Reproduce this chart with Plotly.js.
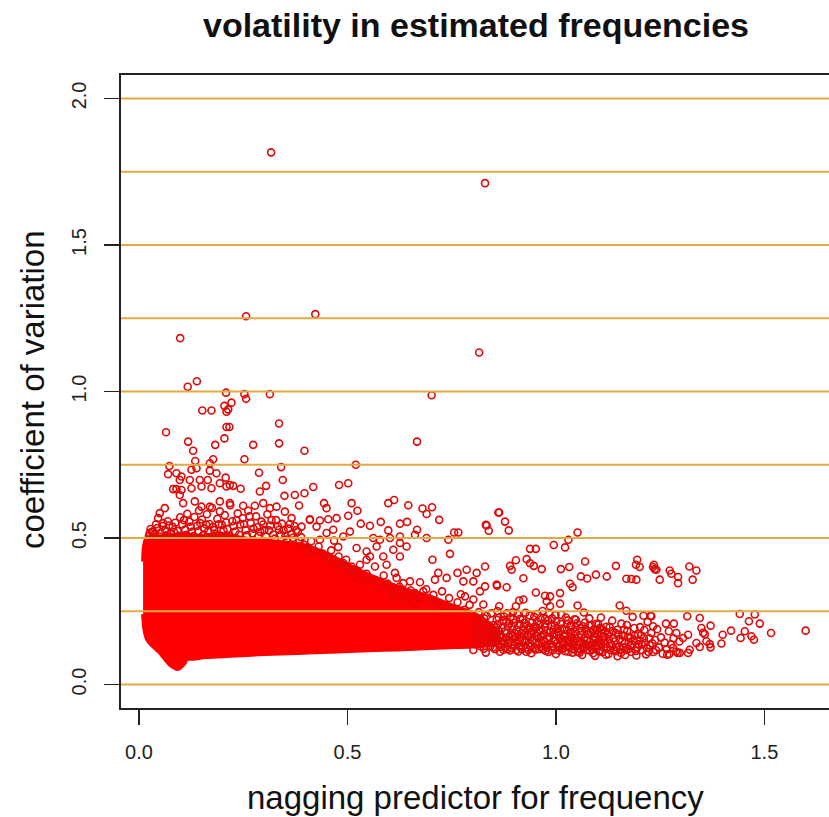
<!DOCTYPE html>
<html>
<head>
<meta charset="utf-8">
<script src="https://cdn.plot.ly/plotly-3.0.1.min.js"></script>
<style>html,body{margin:0;padding:0;background:#fff;}#chart{width:829px;height:817px;}</style>
</head>
<body>
<div id="chart"></div>
<script>
// ---------------- data ----------------
var chartTitle = 'volatility in estimated frequencies';
var xTitle = 'nagging predictor for frequency';
var yTitle = 'coefficient of variation';
var xTickVals = [0, 0.5, 1.0, 1.5];
var xTickText = ['0.0', '0.5', '1.0', '1.5'];
var yTickVals = [0, 0.5, 1.0, 1.5, 2.0];
var yTickText = ['0.0', '0.5', '1.0', '1.5', '2.0'];
var refLevels = [0, 0.25, 0.5, 0.75, 1.0, 1.25, 1.5, 1.75, 2.0];

// outline of the saturated (overplotted) core of the cloud
var coreX = [0.010,0.012,0.018,0.050,0.100,0.150,0.200,0.230,0.270,0.310,0.350,0.390,0.420,0.460,0.500,0.550,0.600,0.650,0.700,0.750,0.800,0.835,0.860,
             0.860,0.800,0.760,0.700,0.620,0.550,0.460,0.380,0.300,0.220,0.162,0.130,0.114,0.110,0.094,0.074,0.050,0.030,0.020,0.013,0.010];
var coreY = [0.420,0.470,0.500,0.505,0.512,0.508,0.515,0.505,0.495,0.490,0.485,0.478,0.465,0.440,0.410,0.375,0.345,0.320,0.300,0.270,0.245,0.215,0.180,
             0.140,0.130,0.128,0.125,0.120,0.117,0.112,0.108,0.104,0.098,0.094,0.088,0.087,0.074,0.053,0.068,0.109,0.135,0.153,0.190,0.240];

var outliers = [[0.317,1.816],[0.830,1.711],[0.257,1.257],[0.423,1.264],[0.099,1.182],[0.816,1.133],[0.117,1.016],[0.139,1.035],[0.209,0.996],[0.253,0.991],[0.314,0.991],[0.702,0.987],[0.257,0.975]];

var upperScatter = [[0.152,0.935],[0.174,0.935],[0.205,0.951],[0.222,0.962],[0.210,0.931],[0.214,0.939],[0.336,0.891],[0.065,0.861],[0.210,0.879],[0.217,0.879],[0.205,0.840],[0.118,0.829],[0.183,0.818],[0.274,0.818],[0.336,0.823],[0.397,0.798],[0.130,0.798],[0.135,0.763],[0.178,0.769],[0.170,0.755],[0.253,0.769],[0.073,0.746],[0.070,0.718],[0.126,0.733],[0.138,0.738],[0.170,0.730],[0.288,0.723],[0.341,0.742],[0.345,0.698],[0.090,0.721],[0.102,0.710],[0.098,0.698],[0.122,0.698],[0.146,0.698],[0.126,0.670],[0.150,0.676],[0.165,0.698],[0.186,0.721],[0.208,0.706],[0.210,0.676],[0.218,0.681],[0.226,0.678],[0.244,0.668],[0.082,0.667],[0.090,0.667],[0.102,0.664],[0.098,0.647],[0.174,0.670],[0.194,0.687],[0.290,0.659],[0.305,0.678],[0.349,0.644],[0.374,0.647],[0.397,0.653],[0.418,0.674],[0.384,0.611],[0.062,0.602],[0.050,0.585],[0.046,0.568],[0.058,0.551],[0.034,0.522],[0.026,0.517],[0.106,0.619],[0.134,0.625],[0.150,0.607],[0.170,0.607],[0.194,0.625],[0.218,0.619],[0.250,0.610],[0.278,0.610],[0.298,0.619],[0.314,0.602],[0.330,0.607],[0.350,0.590],[0.366,0.568],[0.390,0.539],[0.410,0.562],[0.426,0.539]];

var midScatter = [[0.667,0.829],[0.520,0.750],[0.480,0.681],[0.502,0.687],[0.444,0.619],[0.450,0.602],[0.510,0.619],[0.524,0.593],[0.598,0.619],[0.612,0.630],[0.646,0.612],[0.680,0.601],[0.690,0.582],[0.703,0.605],[0.720,0.562],[0.834,0.543],[0.839,0.525],[0.862,0.587],[0.410,0.564],[0.434,0.560],[0.454,0.564],[0.474,0.568],[0.502,0.576],[0.532,0.549],[0.554,0.542],[0.580,0.555],[0.598,0.526],[0.626,0.549],[0.643,0.555],[0.667,0.528],[0.690,0.500],[0.742,0.494],[0.756,0.519],[0.766,0.519],[0.746,0.446],[0.704,0.426],[0.830,0.403],[0.810,0.381],[0.786,0.392],[0.778,0.352],[0.802,0.352],[0.858,0.341],[0.764,0.381],[0.738,0.364],[0.718,0.381],[0.710,0.358],[0.650,0.352],[0.674,0.349],[0.682,0.318],[0.662,0.312],[0.634,0.346],[0.614,0.381],[0.618,0.364],[0.830,0.335],[0.818,0.318],[0.802,0.290],[0.782,0.301],[0.546,0.454],[0.570,0.471],[0.586,0.437],[0.610,0.460],[0.626,0.483],[0.642,0.471],[0.546,0.426],[0.566,0.403],[0.594,0.409],[0.626,0.437],[0.490,0.415],[0.510,0.403],[0.530,0.409],[0.554,0.437],[0.522,0.466],[0.466,0.528],[0.490,0.505],[0.506,0.522],[0.450,0.517],[0.434,0.494],[0.562,0.500],[0.578,0.494],[0.602,0.500],[0.626,0.505],[0.662,0.511]];

var rightScatter = [[0.864,0.587],[0.878,0.556],[0.887,0.526],[0.832,0.545],[1.052,0.519],[1.030,0.494],[1.022,0.468],[0.995,0.476],[0.938,0.463],[0.952,0.463],[0.930,0.428],[0.938,0.414],[0.947,0.405],[0.966,0.394],[0.904,0.424],[0.890,0.405],[0.894,0.392],[0.922,0.363],[1.012,0.394],[1.032,0.401],[1.070,0.420],[1.060,0.369],[1.075,0.362],[1.096,0.375],[1.122,0.369],[1.144,0.405],[1.195,0.426],[1.201,0.401],[1.192,0.409],[1.233,0.401],[1.241,0.392],[1.169,0.361],[1.181,0.360],[1.193,0.358],[0.859,0.337],[0.882,0.332],[0.952,0.314],[0.974,0.303],[0.986,0.301],[1.010,0.312],[1.034,0.344],[1.040,0.332],[0.978,0.284],[0.986,0.267],[1.010,0.276],[1.052,0.270],[0.922,0.290],[0.912,0.287],[0.904,0.267],[0.864,0.267],[0.826,0.273],[1.153,0.270],[1.169,0.252],[1.210,0.235],[1.227,0.235]];

var tailScatter = [[1.235,0.409],[1.237,0.394],[1.273,0.389],[1.277,0.378],[1.293,0.367],[1.293,0.346],[1.249,0.358],[1.320,0.403],[1.337,0.389],[1.328,0.358],[1.264,0.208],[1.283,0.208],[1.315,0.233],[1.229,0.233],[1.233,0.199],[1.289,0.176],[1.317,0.170],[1.305,0.159],[1.281,0.125],[1.272,0.104],[1.297,0.108],[1.317,0.108],[1.345,0.128],[1.371,0.127],[1.361,0.148],[1.349,0.193],[1.345,0.227],[1.371,0.201],[1.353,0.177],[1.357,0.172],[1.441,0.241],[1.477,0.239],[1.463,0.216],[1.489,0.208],[1.516,0.176],[1.599,0.184],[1.420,0.184],[1.400,0.170],[1.397,0.140],[1.443,0.159],[1.453,0.182],[1.469,0.165],[1.475,0.153],[1.369,0.138],[1.337,0.142],[1.321,0.119],[1.267,0.102],[1.292,0.108]];

var bandScatter = [[0.802,0.118],[0.806,0.214],[0.811,0.162],[0.815,0.247],[0.819,0.131],[0.823,0.188],[0.828,0.226],[0.832,0.109],[0.836,0.152],[0.840,0.201],[0.845,0.243],[0.849,0.127],[0.853,0.176],[0.858,0.221],[0.862,0.139],[0.866,0.112],[0.871,0.193],[0.875,0.232],[0.879,0.158],[0.884,0.121],[0.888,0.208],[0.892,0.171],[0.897,0.247],[0.901,0.134],[0.906,0.187],[0.910,0.113],[0.914,0.224],[0.919,0.149],[0.923,0.198],[0.928,0.126],[0.932,0.169],[0.937,0.236],[0.941,0.107],[0.946,0.184],[0.950,0.142],[0.955,0.214],[0.959,0.121],[0.964,0.163],[0.968,0.251],[0.973,0.196],[0.977,0.133],[0.982,0.111],[0.986,0.178],[0.991,0.226],[0.995,0.148],[1.000,0.104],[1.004,0.191],[1.009,0.129],[1.013,0.238],[1.018,0.166],[1.022,0.114],[1.027,0.207],[1.031,0.143],[1.036,0.178],[1.040,0.109],[1.045,0.223],[1.049,0.157],[1.054,0.124],[1.058,0.192],[1.063,0.101],[1.067,0.246],[1.072,0.138],[1.076,0.172],[1.081,0.116],[1.085,0.203],[1.090,0.152],[1.094,0.098],[1.099,0.186],[1.103,0.131],[1.108,0.229],[1.112,0.111],[1.117,0.164],[1.121,0.197],[1.126,0.104],[1.130,0.141],[1.135,0.218],[1.139,0.119],[1.144,0.176],[1.148,0.097],[1.153,0.155],[1.157,0.208],[1.162,0.126],[1.166,0.101],[1.171,0.183],[1.175,0.145],[1.180,0.112],[1.184,0.231],[1.189,0.167],[1.193,0.099],[1.198,0.138],[1.202,0.196],[1.207,0.117],[1.211,0.158],[1.216,0.103],[1.220,0.214],[1.225,0.134],[1.229,0.176],[1.234,0.111],[1.238,0.152],[1.243,0.189],[1.247,0.127],[1.252,0.161],[1.256,0.105],[1.261,0.143],[1.266,0.121],[1.271,0.182],[1.276,0.137],[1.282,0.158],[1.288,0.113],[1.296,0.147],
  [0.803,0.172],[0.809,0.137],[0.814,0.195],[0.821,0.155],[0.827,0.122],[0.834,0.234],[0.838,0.178],[0.843,0.131],[0.851,0.203],[0.855,0.148],[0.860,0.251],[0.864,0.183],[0.869,0.128],[0.873,0.162],[0.881,0.215],[0.886,0.142],[0.890,0.116],[0.895,0.198],[0.903,0.161],[0.908,0.239],[0.912,0.132],[0.917,0.176],[0.925,0.211],[0.930,0.152],[0.934,0.118],[0.939,0.193],[0.948,0.231],[0.952,0.167],[0.957,0.137],[0.962,0.185],[0.970,0.121],[0.975,0.208],[0.979,0.156],[0.984,0.241],[0.993,0.131],[0.997,0.201],[1.002,0.168],[1.007,0.116],[1.016,0.145],[1.020,0.188],[1.025,0.128],[1.029,0.219],[1.038,0.157],[1.043,0.135],[1.047,0.196],[1.052,0.112],[1.061,0.169],[1.065,0.141],[1.070,0.212],[1.074,0.118],[1.083,0.179],[1.088,0.133],[1.092,0.161],[1.097,0.207],[1.106,0.148],[1.110,0.176],[1.115,0.125],[1.119,0.139]];

var bandScatter2 = [[0.852,0.165],[0.857,0.195],[0.863,0.228],[0.868,0.148],[0.874,0.119],[0.877,0.181],[0.883,0.243],[0.887,0.163],[0.893,0.135],[0.898,0.224],[0.902,0.175],[0.909,0.148],[0.913,0.207],[0.918,0.121],[0.924,0.168],[0.927,0.245],[0.933,0.187],[0.938,0.141],[0.943,0.212],[0.947,0.124],[0.953,0.195],[0.958,0.158],[0.963,0.227],[0.967,0.142],[0.972,0.173],[0.976,0.115],[0.981,0.219],[0.985,0.161],[0.989,0.128],[0.994,0.188],[0.999,0.237],[1.003,0.142],[1.008,0.171],[1.012,0.207],[1.017,0.123],[1.021,0.153],[1.026,0.186],[1.030,0.112],[1.035,0.201],[1.039,0.139],[1.044,0.168],[1.048,0.221],[1.053,0.147],[1.057,0.109],[1.062,0.183],[1.066,0.126],[1.071,0.191],[1.075,0.151],[1.080,0.226],[1.084,0.134],[1.089,0.107],[1.093,0.174],[1.098,0.143],[1.102,0.205],[1.107,0.118],[1.111,0.189],[1.116,0.148],[1.120,0.102],[1.125,0.171],[1.129,0.196],[1.134,0.133],[1.138,0.158],[1.143,0.114],[1.147,0.187],[1.152,0.131],[1.156,0.108],[1.161,0.167],[1.165,0.141],[1.170,0.203],[1.174,0.121],[1.179,0.159],[1.183,0.137],[1.188,0.193],[1.192,0.115],[1.197,0.172],[1.201,0.152],[1.206,0.137],[1.212,0.186],[1.218,0.125],[1.224,0.158],[1.231,0.141],[1.240,0.118]];

var bandScatter3 = [[0.842,0.141],[0.846,0.186],[0.850,0.158],[0.854,0.121],[0.859,0.172],[0.861,0.206],[0.867,0.161],[0.870,0.139],[0.872,0.219],[0.876,0.149],[0.880,0.128],[0.882,0.176],[0.885,0.199],[0.889,0.152],[0.891,0.229],[0.894,0.124],[0.896,0.166],[0.900,0.211],[0.904,0.143],[0.905,0.118],[0.911,0.181],[0.915,0.161],[0.916,0.131],[0.920,0.222],[0.922,0.184],[0.926,0.145],[0.929,0.112],[0.931,0.201],[0.935,0.163],[0.940,0.129],[0.942,0.176],[0.945,0.151],[0.949,0.198],[0.951,0.119],[0.954,0.177],[0.956,0.241],[0.960,0.144],[0.961,0.204],[0.965,0.128],[0.969,0.169],[0.971,0.152],[0.974,0.225],[0.978,0.183],[0.980,0.125],[0.983,0.162],[0.987,0.139],[0.990,0.201],[0.992,0.117],[0.996,0.172],[0.998,0.152],[1.001,0.215],[1.005,0.131],[1.006,0.179],[1.010,0.157],[1.014,0.122],[1.015,0.191],[1.019,0.137],[1.023,0.172],[1.024,0.229],[1.028,0.151],[1.032,0.127],[1.034,0.164],[1.037,0.198],[1.041,0.121],[1.042,0.149],[1.046,0.181],[1.050,0.134],[1.051,0.209],[1.055,0.163],[1.059,0.142],[1.060,0.118],[1.064,0.199],[1.068,0.158],[1.069,0.127],[1.073,0.184],[1.077,0.133],[1.079,0.202],[1.082,0.147],[1.087,0.121],[1.091,0.188],[1.095,0.159],[1.096,0.128],[1.100,0.171],[1.104,0.113],[1.105,0.193],[1.109,0.138],[1.113,0.162],[1.118,0.181],[1.123,0.128],[1.127,0.155],[1.131,0.117],[1.136,0.183],[1.141,0.147],[1.145,0.128],[1.150,0.171],[1.155,0.121],[1.159,0.148],[1.164,0.188],[1.168,0.118],[1.173,0.163],[1.178,0.132],[1.186,0.151],[1.195,0.127],[1.204,0.168],[1.214,0.142],[1.222,0.111]];

var shoulderScatter = [[0.605,0.318],[0.612,0.296],[0.625,0.334],[0.633,0.305],[0.641,0.288],[0.652,0.321],[0.661,0.279],[0.673,0.297],[0.689,0.325],[0.698,0.284],[0.706,0.306],[0.715,0.276],[0.727,0.318],[0.735,0.268],[0.744,0.295],[0.752,0.262],[0.764,0.281],[0.772,0.308],[0.781,0.255],[0.793,0.272],[0.568,0.357],[0.579,0.331],[0.587,0.372],[0.596,0.345],[0.546,0.378],[0.536,0.353],[0.524,0.389],[0.515,0.371],
  [0.395,0.478],[0.404,0.462],[0.413,0.489],[0.422,0.455],[0.431,0.471],[0.441,0.447],[0.452,0.429],[0.461,0.458],[0.470,0.412],[0.479,0.437],[0.488,0.401],[0.497,0.426],[0.506,0.389],[0.478,0.469],[0.468,0.491]];

var topFringe = [[0.024,0.508],[0.031,0.521],[0.038,0.512],[0.044,0.534],[0.052,0.518],[0.057,0.541],[0.063,0.526],[0.069,0.557],[0.075,0.515],[0.081,0.538],[0.087,0.552],[0.093,0.524],[0.099,0.571],[0.104,0.546],[0.111,0.529],[0.116,0.583],[0.121,0.556],[0.127,0.521],[0.133,0.572],[0.139,0.541],[0.144,0.594],[0.151,0.563],[0.157,0.532],[0.163,0.581],[0.169,0.548],[0.175,0.603],[0.181,0.527],[0.188,0.566],[0.194,0.591],[0.199,0.545],[0.206,0.578],[0.212,0.531],[0.219,0.612],[0.224,0.557],[0.231,0.522],[0.237,0.584],[0.243,0.546],[0.249,0.568],[0.256,0.527],[0.262,0.593],[0.268,0.551],[0.275,0.532],[0.281,0.574],[0.287,0.508],[0.294,0.556],[0.301,0.527],[0.308,0.581],[0.315,0.543],[0.322,0.512],[0.329,0.561],[0.336,0.528],[0.343,0.549],[0.351,0.507],[0.358,0.532],[0.366,0.514],[0.373,0.541],[0.381,0.521],[0.389,0.503],
  [0.028,0.531],[0.041,0.547],[0.048,0.505],[0.066,0.509],[0.072,0.543],[0.084,0.521],[0.096,0.508],[0.108,0.561],[0.114,0.511],[0.124,0.539],[0.131,0.507],[0.142,0.523],[0.147,0.551],[0.155,0.512],[0.161,0.546],[0.166,0.522],[0.178,0.538],[0.185,0.513],[0.191,0.547],[0.203,0.526],[0.209,0.553],[0.216,0.507],[0.227,0.541],[0.234,0.561],[0.240,0.511],[0.252,0.548],[0.259,0.509],[0.265,0.574],[0.272,0.516],[0.284,0.537],[0.291,0.521],[0.298,0.546],[0.305,0.505],[0.312,0.526],[0.318,0.561],[0.326,0.498],[0.333,0.541],[0.340,0.512],[0.347,0.527],[0.355,0.495],[0.362,0.548],[0.369,0.501],[0.377,0.527],[0.385,0.489]];

// ---------------- build ----------------
var allPts = [].concat(outliers, upperScatter, midScatter, rightScatter, tailScatter, bandScatter, bandScatter2, bandScatter3, shoulderScatter, topFringe);
var ptX = allPts.map(function (p) { return p[0]; });
var ptY = allPts.map(function (p) { return p[1]; });

var FONT = 'Liberation Sans, Arial, Helvetica, sans-serif';
var RED = '#FF0000';
var RING = '#E00808';

var traces = [
  { type: 'scatter', mode: 'lines', x: coreX, y: coreY, fill: 'toself', fillcolor: RED,
    line: { color: RED, width: 4, shape: 'spline', smoothing: 0.6 }, hoverinfo: 'skip', showlegend: false },
  { type: 'scatter', mode: 'markers', x: ptX, y: ptY, showlegend: false,
    marker: { symbol: 'circle-open', size: 7, color: RING, line: { width: 1.6, color: RING } } }
];

var shapes = refLevels.map(function (v) {
  return { type: 'line', xref: 'paper', x0: 0, x1: 1, yref: 'y', y0: v, y1: v, layer: 'above',
           line: { color: '#E2AA40', width: 2 } };
});

var layout = {
  width: 829, height: 817,
  paper_bgcolor: '#ffffff', plot_bgcolor: '#ffffff',
  margin: { l: 121, r: 0, t: 75, b: 109, pad: 0 },
  showlegend: false,
  font: { family: FONT, color: '#111' },
  title: { text: chartTitle, font: { family: FONT, size: 34, weight: 700, color: '#111' },
           xref: 'container', x: 476 / 829, xanchor: 'center',
           yref: 'container', y: 1 - 25 / 817, yanchor: 'middle' },
  xaxis: { range: [-0.043, 1.655], tickmode: 'array', tickvals: xTickVals, ticktext: xTickText,
           ticks: 'outside', ticklen: 15, tickwidth: 1.5, tickcolor: '#222', ticklabelstandoff: 10,
           tickfont: { family: FONT, size: 20, color: '#222' },
           showline: true, mirror: true, linecolor: '#222', linewidth: 2,
           showgrid: false, zeroline: false, fixedrange: true },
  yaxis: { range: [-0.08, 2.08], tickmode: 'array', tickvals: yTickVals, ticktext: yTickText,
           tickangle: -90, ticks: 'outside', ticklen: 15, tickwidth: 1.5, tickcolor: '#222', ticklabelstandoff: 10,
           tickfont: { family: FONT, size: 20, color: '#222' },
           showline: true, mirror: false, linecolor: '#222', linewidth: 2,
           showgrid: false, zeroline: false, fixedrange: true },
  shapes: shapes,
  annotations: [
    { text: xTitle, xref: 'paper', yref: 'paper', x: 0.5, y: (708 - 797) / 633,
      xanchor: 'center', yanchor: 'middle', showarrow: false,
      font: { family: FONT, size: 33, color: '#111' } },
    { text: yTitle, xref: 'paper', yref: 'paper', x: (32 - 121) / 708, y: (708 - 390) / 633,
      xanchor: 'center', yanchor: 'middle', textangle: -90, showarrow: false,
      font: { family: FONT, size: 33, color: '#111' } }
  ]
};

Plotly.newPlot('chart', traces, layout, { staticPlot: true, displayModeBar: false });
</script>
</body>
</html>
